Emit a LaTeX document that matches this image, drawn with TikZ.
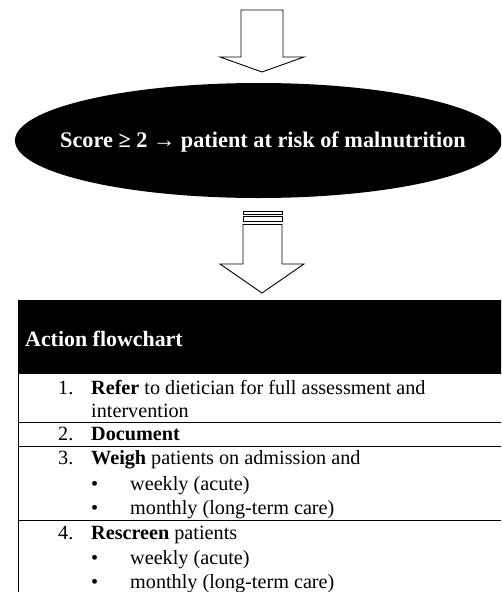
\documentclass[tikz,border=0pt]{standalone}
\usepackage{fontspec}
\setmainfont{Liberation Serif}
\usetikzlibrary{positioning}

\tikzset{
        blockarrow/.style={draw=black, fill=white, line width=0.9pt, line join=miter},
        rowline/.style={draw=black, line width=1pt},
        itemtext/.style={anchor=base west, inner sep=0pt, font=\fontsize{20.2}{24}\selectfont},
        headtext/.style={anchor=base west, inner sep=0pt, text=white, font=\fontsize{21.9}{26}\selectfont\bfseries}
}

\begin{document}
\begin{tikzpicture}[x=1pt, y=-1pt]
        \useasboundingbox (0,0) rectangle (501,592);
        \clip (0,0) rectangle (501,592);

        % Fleche du haut
        \draw[blockarrow] (241,10) -- (283,10) -- (283,57) -- (304,57) -- (262,72)
                -- (220,57) -- (241,57) -- cycle;

        % Ellipse
        \fill[black] (258.5,140.5) ellipse [x radius=243.5, y radius=57.5];
        \node[headtext, font=\fontsize{22.3}{26}\selectfont\bfseries, anchor=base] (score) at (263,147)
                {Score ≥ 2 → patient at risk of malnutrition};

        % Fleche du bas
        \draw[blockarrow] (243,211) rectangle (282,214);
        \draw[blockarrow] (243,216.5) rectangle (282,221.5);
        \draw[blockarrow] (243,224.5) -- (282,224.5) -- (282,264) -- (304,264) -- (262,293)
                -- (220,264) -- (243,264) -- cycle;

        % Tableau
        \fill[black] (18,300) rectangle (503,374);
        \node[headtext] (titre) at (25,346) {Action flowchart};
        \draw[rowline] (18,374) -- (18,593);
        \draw[rowline] (18,422.7) -- (502,422.7);
        \draw[rowline] (18,446) -- (502,446);
        \draw[rowline] (18,520) -- (502,520);

        % Lignes du tableau
        \node[itemtext] (n1) at (58,394) {1.};
        \node[itemtext] (t1) at (91,394) {\textbf{Refer} to dietician for full assessment and};
        \node[itemtext] (t1b) at (91,417) {intervention};
        \node[itemtext] (n2) at (58,440) {2.};
        \node[itemtext] (t2) at (91,440) {\textbf{Document}};
        \node[itemtext] (n3) at (58,464) {3.};
        \node[itemtext] (t3) at (91,464) {\textbf{Weigh} patients on admission and};
        \node[itemtext] (b3a) at (91,490) {•};
        \node[itemtext] (t3a) at (130,490) {weekly (acute)};
        \node[itemtext] (b3b) at (91,514) {•};
        \node[itemtext] (t3b) at (130,514) {monthly (long-term care)};
        \node[itemtext] (n4) at (58,539) {4.};
        \node[itemtext] (t4) at (91,539) {\textbf{Rescreen} patients};
        \node[itemtext] (b4a) at (91,564) {•};
        \node[itemtext] (t4a) at (130,564) {weekly (acute)};
        \node[itemtext] (b4b) at (91,588) {•};
        \node[itemtext] (t4b) at (130,588) {monthly (long-term care)};

\end{tikzpicture}
\end{document}
